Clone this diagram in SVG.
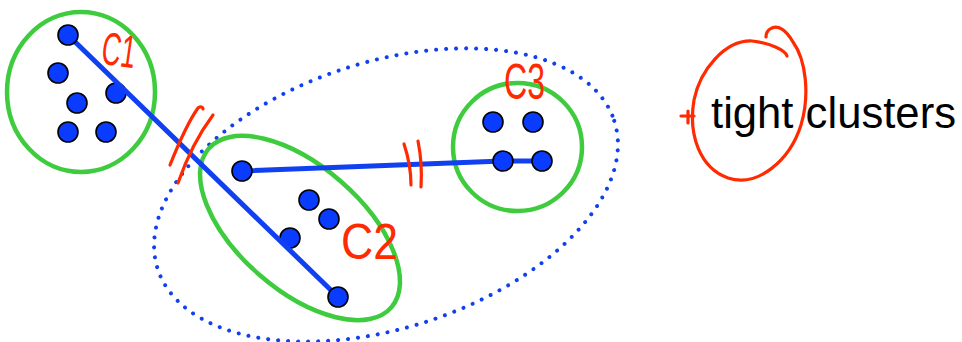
<svg xmlns="http://www.w3.org/2000/svg" width="962" height="342" viewBox="0 0 962 342">
<style>
.cl{fill:none;stroke:#3ecc3e;stroke-width:4.5}
.dot{fill:#0a3cff;stroke:#000;stroke-width:1.6}
.edge{fill:none;stroke:#1040f0;stroke-width:5;stroke-linecap:round;stroke-linejoin:round}
.dotted{fill:none;stroke:#1040f0;stroke-width:4;stroke-dasharray:0 10;stroke-linecap:round}
.ink{fill:none;stroke:#ff2a00;stroke-width:3.2;stroke-linecap:round;stroke-linejoin:round}
.lbl{fill:#ff2a00;font-family:"Liberation Sans",Arial,sans-serif}
.txt{fill:#000;font-family:"Comic Sans MS","Liberation Sans",sans-serif;font-size:44px}
</style>
<rect width="962" height="342" fill="#fff"/>
<g id="merged-cluster">
<ellipse class="dotted" cx="386" cy="195" rx="240" ry="133" transform="rotate(-18 386 195)"/>
</g>
<g id="cluster-c1">
<ellipse class="cl" cx="81" cy="92" rx="74" ry="80"/>
<text class="lbl" x="102" y="66" font-size="46" textLength="34" lengthAdjust="spacingAndGlyphs" transform="rotate(8 118 50)">C1</text>
</g>
<g id="cluster-c2">
<ellipse class="cl" cx="300" cy="228" rx="121" ry="62" transform="rotate(41 300 228)"/>
<text class="lbl" x="341" y="259" font-size="50" textLength="57" lengthAdjust="spacingAndGlyphs">C2</text>
</g>
<g id="cluster-c3">
<ellipse class="cl" cx="517.5" cy="147" rx="64.5" ry="64"/>
<text class="lbl" x="504" y="99" font-size="50" textLength="41" lengthAdjust="spacingAndGlyphs">C3</text>
</g>
<g id="p1-2"><circle class="dot" cx="58" cy="73" r="10"/></g>
<g id="p1-3"><circle class="dot" cx="77" cy="103" r="10"/></g>
<g id="p1-4"><circle class="dot" cx="116" cy="93" r="10"/></g>
<g id="p1-5"><circle class="dot" cx="68" cy="132" r="10"/></g>
<g id="p1-6"><circle class="dot" cx="106" cy="132" r="10"/></g>
<g id="p2-2"><circle class="dot" cx="309" cy="200" r="10"/></g>
<g id="p2-3"><circle class="dot" cx="329" cy="219" r="10"/></g>
<g id="p2-4"><circle class="dot" cx="290" cy="238" r="10"/></g>
<g id="p3-1"><circle class="dot" cx="493" cy="122" r="10"/></g>
<g id="p3-2"><circle class="dot" cx="533" cy="122" r="10"/></g>
<g id="connectors">
<line class="edge" x1="68" y1="35" x2="338" y2="297"/>
<polyline class="edge" points="242,171 503,161 542,161"/>
<path class="ink" d="M170,165 C178,145 188,122 198,108 C200,106 203,107 203,109"/>
<path class="ink" d="M178,183 C186,160 198,135 213,115"/>
<path class="ink" d="M404,144 C408,156 411,170 411,185"/>
<path class="ink" d="M418,141 C421,156 422,172 421,187"/>
</g>
<g id="p1-1"><circle class="dot" cx="68" cy="35" r="10"/></g>
<g id="p2-1"><circle class="dot" cx="242" cy="171" r="10"/></g>
<g id="p2-5"><circle class="dot" cx="338" cy="297" r="10"/></g>
<g id="p3-3"><circle class="dot" cx="503" cy="161" r="10"/></g>
<g id="p3-4"><circle class="dot" cx="542" cy="161" r="10"/></g>
<g id="note">
<path class="ink" d="M787,56 C785,50 770,43 752,41 C725,40 700,70 694,100 C688,135 700,168 728,178 C758,188 790,160 801,125 C810,95 806,60 793,42 C786,30 778,24 770,29 C767,31 766,34 766,37"/>
<path class="ink" d="M681,116 L694,116 M688,111 L688,123"/>
<text class="txt" x="711" y="128" textLength="245" lengthAdjust="spacingAndGlyphs">tight clusters</text>
</g>
</svg>
